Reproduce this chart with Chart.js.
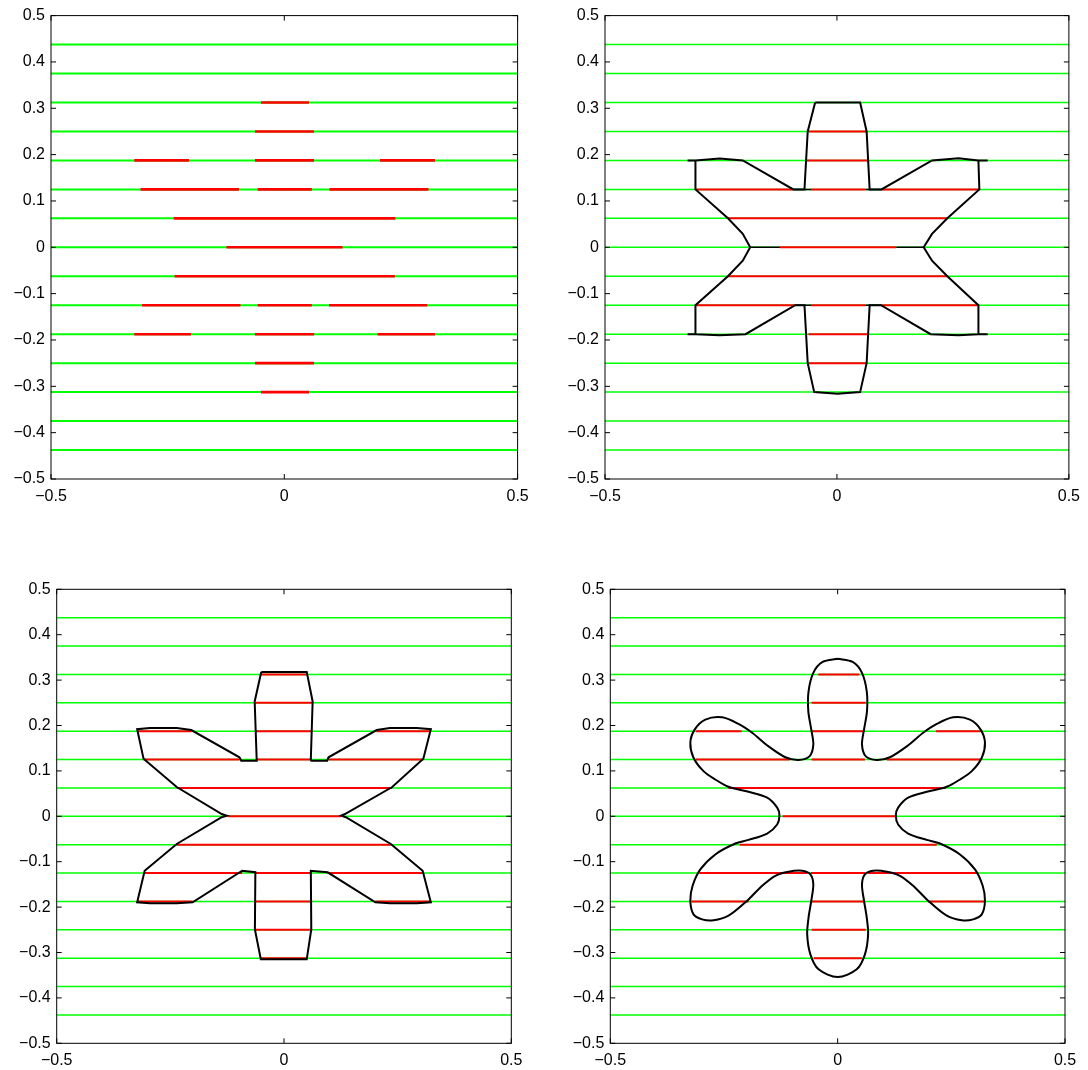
<!DOCTYPE html>
<html>
<head>
    <title>Interface rows</title>
    <script src="https://cdn.jsdelivr.net/npm/chart.js"></script>
    <style>
        body { margin: 0; background: #fff; }
        #wrap { position: relative; width: 1088px; height: 1070px; }
        canvas { position: absolute; }
    </style>
</head>
<body>
<div id="wrap">
    <canvas id="c1" width="544" height="535" style="left:0px;top:0px"></canvas>
    <canvas id="c2" width="544" height="535" style="left:544px;top:0px"></canvas>
    <canvas id="c3" width="544" height="535" style="left:0px;top:535px"></canvas>
    <canvas id="c4" width="544" height="535" style="left:544px;top:535px"></canvas>
</div>
<script>
// axis ticks
var tickX = [-0.5, 0, 0.5];
var tickY = [-0.5, -0.4, -0.3, -0.2, -0.1, 0, 0.1, 0.2, 0.3, 0.4, 0.5];

// horizontal grid rows (green), same in every panel
var gridRows = [-0.4375, -0.375, -0.3125, -0.25, -0.1875, -0.125, -0.0625, 0,
                0.0625, 0.125, 0.1875, 0.25, 0.3125, 0.375, 0.4375];

// red pieces: [y, xStart, xEnd]
var redTL = [
    [0.3125, -0.050, 0.053], [0.25, -0.0628, 0.0637],
    [0.1875, -0.3215, -0.204], [0.1875, -0.0628, 0.0637], [0.1875, 0.205, 0.323],
    [0.125, -0.308, -0.097], [0.125, -0.057, 0.059], [0.125, 0.097, 0.309],
    [0.0625, -0.237, 0.238], [0, -0.124, 0.125], [-0.0625, -0.235, 0.237],
    [-0.125, -0.305, -0.094], [-0.125, -0.057, 0.059], [-0.125, 0.096, 0.3065],
    [-0.1875, -0.3215, -0.200], [-0.1875, -0.063, 0.064], [-0.1875, 0.200, 0.323],
    [-0.25, -0.0628, 0.0637], [-0.3125, -0.050, 0.053]
];
var redTR = [
    [0.25, -0.0612, 0.064], [0.1875, -0.0684, 0.0655],
    [0.125, -0.3046, -0.0942], [0.125, -0.0562, 0.0619], [0.125, 0.0962, 0.3074],
    [0.0625, -0.2352, 0.238], [0, -0.1228, 0.1277], [-0.0625, -0.2352, 0.238],
    [-0.125, -0.3046, -0.0899], [-0.125, -0.0562, 0.0619], [-0.125, 0.0948, 0.3052],
    [-0.1875, -0.0612, 0.0655], [-0.25, -0.0612, 0.064]
];
var redBL = [
    [0.3125, -0.050, 0.050], [0.25, -0.063, 0.063],
    [0.1875, -0.3226, -0.2038], [0.1875, -0.063, 0.062], [0.1875, 0.2038, 0.3226],
    [0.125, -0.309, -0.098], [0.125, -0.060, 0.060], [0.125, 0.098, 0.3065],
    [0.0625, -0.236, 0.238], [0, -0.123, 0.126], [-0.0625, -0.236, 0.235],
    [-0.125, -0.3065, -0.092], [-0.125, -0.063, 0.060], [-0.125, 0.096, 0.305],
    [-0.1875, -0.3226, -0.2009], [-0.1875, -0.063, 0.062], [-0.1875, 0.2009, 0.3226],
    [-0.25, -0.063, 0.062], [-0.3125, -0.051, 0.050]
];
var redBR = [
    [0.3125, -0.0425, 0.0477], [0.25, -0.057, 0.0616],
    [0.1875, -0.3116, -0.211], [0.1875, -0.057, 0.058], [0.1875, 0.216, 0.3145],
    [0.125, -0.3116, -0.105], [0.125, -0.057, 0.060], [0.125, 0.108, 0.3145],
    [0.0625, -0.2405, 0.238], [0, -0.121, 0.126], [-0.0625, -0.215, 0.218],
    [-0.125, -0.304, -0.067], [-0.125, -0.059, 0.060], [-0.125, 0.067, 0.309],
    [-0.1875, -0.321, -0.196], [-0.1875, -0.057, 0.058], [-0.1875, 0.199, 0.322],
    [-0.25, -0.057, 0.0616], [-0.3125, -0.052, 0.053]
];

// extra short black pieces on rows (top right panel)
var blackTR = [
    [0, -0.187, -0.123], [0, 0.128, 0.187],
    [0.125, -0.094, -0.056], [0.125, 0.062, 0.096],
    [-0.125, -0.090, -0.056], [-0.125, 0.062, 0.095]
];

// outlines [x, y]
var outlineTR = [
    [-0.047, 0.3125], [0.050, 0.3125], [0.064, 0.25], [0.0705, 0.125], [0.096, 0.125],
    [0.205, 0.1875], [0.262, 0.192], [0.305, 0.1875], [0.325, 0.1875], [0.305, 0.1875],
    [0.307, 0.125], [0.238, 0.0625], [0.205, 0.029], [0.187, 0], [0.205, -0.029],
    [0.238, -0.0625], [0.305, -0.125], [0.305, -0.1875], [0.325, -0.1875], [0.305, -0.1875],
    [0.262, -0.190], [0.202, -0.1875], [0.095, -0.125], [0.0705, -0.125], [0.064, -0.25],
    [0.050, -0.3125], [0.001, -0.316], [-0.049, -0.3125], [-0.063, -0.25], [-0.070, -0.125],
    [-0.090, -0.125], [-0.197, -0.1875], [-0.253, -0.190], [-0.305, -0.1875], [-0.322, -0.1875],
    [-0.305, -0.1875], [-0.305, -0.125], [-0.235, -0.0625], [-0.203, -0.029], [-0.187, 0],
    [-0.203, 0.029], [-0.235, 0.0625], [-0.305, 0.125], [-0.305, 0.1875], [-0.322, 0.1875],
    [-0.305, 0.1875], [-0.253, 0.1915], [-0.203, 0.1875], [-0.094, 0.125], [-0.070, 0.125],
    [-0.063, 0.25], [-0.047, 0.3125]
];
var outlineBL = [
    [-0.050, 0.318], [0.050, 0.318], [0.063, 0.253], [0.059, 0.125], [0.060, 0.1225],
    [0.095, 0.1225], [0.098, 0.130], [0.204, 0.190], [0.233, 0.1945], [0.292, 0.1945],
    [0.323, 0.192], [0.3065, 0.127], [0.238, 0.0645], [0.134, 0.005], [0.126, 0.0014],
    [0.136, -0.002], [0.235, -0.061], [0.305, -0.120], [0.323, -0.1895], [0.292, -0.1917],
    [0.233, -0.1917], [0.201, -0.1895], [0.096, -0.1234], [0.059, -0.120], [0.060, -0.249],
    [0.050, -0.315], [-0.051, -0.315], [-0.064, -0.249], [-0.063, -0.123], [-0.092, -0.120],
    [-0.201, -0.1895], [-0.236, -0.1917], [-0.295, -0.1917], [-0.323, -0.1895], [-0.3065, -0.120],
    [-0.236, -0.061], [-0.137, -0.002], [-0.126, 0.0014], [-0.137, 0.005], [-0.236, 0.0645],
    [-0.309, 0.127], [-0.323, 0.192], [-0.295, 0.1945], [-0.236, 0.1945], [-0.204, 0.190],
    [-0.098, 0.130], [-0.094, 0.1225], [-0.060, 0.1225], [-0.0645, 0.253], [-0.050, 0.318]
];
var outlineBR = [
    [0, 0.347], [0.033, 0.340], [0.0535, 0.316], [0.064, 0.275], [0.0645, 0.231],
    [0.058, 0.191], [0.0535, 0.158], [0.062, 0.132], [0.086, 0.124], [0.115, 0.130],
    [0.152, 0.154], [0.188, 0.184], [0.218, 0.2035], [0.254, 0.218], [0.291, 0.213],
    [0.3145, 0.191], [0.324, 0.162], [0.317, 0.129], [0.295, 0.0995], [0.269, 0.081],
    [0.240, 0.065], [0.196, 0.054], [0.155, 0.041], [0.133, 0.019], [0.128, 0.002],
    [0.133, -0.018], [0.155, -0.038], [0.196, -0.052], [0.225, -0.060], [0.269, -0.084],
    [0.302, -0.117], [0.319, -0.153], [0.324, -0.186], [0.317, -0.216], [0.298, -0.227],
    [0.273, -0.229], [0.240, -0.219], [0.199, -0.186], [0.166, -0.153], [0.137, -0.131],
    [0.108, -0.122], [0.078, -0.120], [0.060, -0.128], [0.0535, -0.150], [0.058, -0.186],
    [0.064, -0.223], [0.067, -0.260], [0.060, -0.304], [0.042, -0.337], [0, -0.354],
    [-0.042, -0.337], [-0.060, -0.304], [-0.067, -0.260], [-0.064, -0.223], [-0.058, -0.186],
    [-0.0535, -0.150], [-0.060, -0.128], [-0.078, -0.120], [-0.108, -0.122], [-0.137, -0.131],
    [-0.166, -0.153], [-0.199, -0.186], [-0.240, -0.219], [-0.273, -0.229], [-0.298, -0.227],
    [-0.317, -0.216], [-0.324, -0.186], [-0.319, -0.153], [-0.302, -0.117], [-0.269, -0.084],
    [-0.225, -0.060], [-0.196, -0.052], [-0.155, -0.038], [-0.133, -0.018], [-0.128, 0.002],
    [-0.133, 0.019], [-0.155, 0.041], [-0.196, 0.054], [-0.240, 0.065], [-0.269, 0.081],
    [-0.295, 0.0995], [-0.317, 0.129], [-0.324, 0.162], [-0.3145, 0.191], [-0.291, 0.213],
    [-0.254, 0.218], [-0.218, 0.2035], [-0.188, 0.184], [-0.152, 0.154], [-0.115, 0.130],
    [-0.086, 0.124], [-0.062, 0.132], [-0.0535, 0.158], [-0.058, 0.191], [-0.0645, 0.231],
    [-0.064, 0.275], [-0.0535, 0.316], [-0.033, 0.340], [0, 0.347]
];

var GREEN = '#00ff00';
var RED = '#ff0000';

// box round the plot area plus inward ticks on all four sides
var boxTicks = {
    id: 'boxTicks',
    afterDatasetsDraw: function (chart) {
        var ctx = chart.ctx, a = chart.chartArea;
        var sx = chart.scales.x, sy = chart.scales.y;
        ctx.save();
        ctx.strokeStyle = '#000';
        ctx.lineWidth = 1;
        ctx.strokeRect(a.left, a.top, a.right - a.left, a.bottom - a.top);
        ctx.beginPath();
        sx.ticks.forEach(function (t) {
            var px = sx.getPixelForValue(t.value);
            ctx.moveTo(px, a.bottom); ctx.lineTo(px, a.bottom - 5);
            ctx.moveTo(px, a.top); ctx.lineTo(px, a.top + 5);
        });
        sy.ticks.forEach(function (t) {
            var py = sy.getPixelForValue(t.value);
            ctx.moveTo(a.left, py); ctx.lineTo(a.left + 5, py);
            ctx.moveTo(a.right, py); ctx.lineTo(a.right - 5, py);
        });
        ctx.stroke();
        ctx.restore();
    }
};

function fmt(v) {
    if (v === 0) return '0';
    return String(v).replace('-', '\u2212');
}

function rowSets(rows, color, width) {
    return rows.map(function (r) {
        return {
            data: [{x: r[1], y: r[0]}, {x: r[2], y: r[0]}],
            borderColor: color, borderWidth: width,
            showLine: true, pointRadius: 0, tension: 0
        };
    });
}

function gridSets(width) {
    return gridRows.map(function (y) {
        return {
            data: [{x: -0.5, y: y}, {x: 0.5, y: y}],
            borderColor: GREEN, borderWidth: width,
            showLine: true, pointRadius: 0
        };
    });
}

function outlineSet(pts, tension) {
    return {
        data: pts.map(function (p) { return {x: p[0], y: p[1]}; }),
        borderColor: '#000', borderWidth: 2,
        showLine: true, pointRadius: 0, tension: tension
    };
}

// pos: plot area inside the 544x535 canvas
// layers are listed bottom first; Chart.js paints dataset 0 last, so reverse
function makeChart(id, pos, layers) {
    var ctx = document.getElementById(id).getContext('2d');
    var font = {family: '"Liberation Sans", Arial, Helvetica, sans-serif', size: 16};
    return new Chart(ctx, {
        type: 'scatter',
        data: {datasets: layers.slice().reverse()},
        plugins: [boxTicks],
        options: {
            responsive: false,
            animation: false,
            devicePixelRatio: 1,
            layout: {padding: {left: 0, top: pos.top, right: 544 - pos.right, bottom: 0}},
            plugins: {legend: {display: false}, tooltip: {enabled: false}},
            scales: {
                x: {
                    type: 'linear', min: -0.5, max: 0.5,
                    grid: {display: false, drawTicks: false},
                    border: {display: false},
                    afterBuildTicks: function (s) { s.ticks = tickX.map(function (v) { return {value: v}; }); },
                    afterFit: function (s) { s.height = 535 - pos.bottom; },
                    ticks: {autoSkip: false, maxRotation: 0, padding: 8, color: '#000', font: font,
                            callback: function (v) { return fmt(v); }}
                },
                y: {
                    type: 'linear', min: -0.5, max: 0.5,
                    grid: {display: false, drawTicks: false},
                    border: {display: false},
                    afterBuildTicks: function (s) { s.ticks = tickY.map(function (v) { return {value: v}; }); },
                    afterFit: function (s) { s.width = pos.left; },
                    ticks: {autoSkip: false, padding: 6, color: '#000', font: font,
                            callback: function (v) { return fmt(v); }}
                }
            }
        }
    });
}

// red drawn a little wider than green so it fully hides the row beneath it
makeChart('c1', {left: 51, right: 517.6, top: 14.3, bottom: 479},
    gridSets(2).concat(rowSets(redTL, RED, 2.6)));

makeChart('c2', {left: 61, right: 526.7, top: 14.3, bottom: 479},
    gridSets(1.5).concat(rowSets(redTR, RED, 2))
        .concat(rowSets(blackTR, '#000', 1.5)).concat([outlineSet(outlineTR, 0)]));

makeChart('c3', {left: 56.7, right: 511.3, top: 54.3, bottom: 508.3},
    gridSets(1.5).concat(rowSets(redBL, RED, 2)).concat([outlineSet(outlineBL, 0)]));

makeChart('c4', {left: 66.3, right: 521, top: 54.3, bottom: 508.3},
    gridSets(1.5).concat(rowSets(redBR, RED, 2)).concat([outlineSet(outlineBR, 0.3)]));
</script>
</body>
</html>
